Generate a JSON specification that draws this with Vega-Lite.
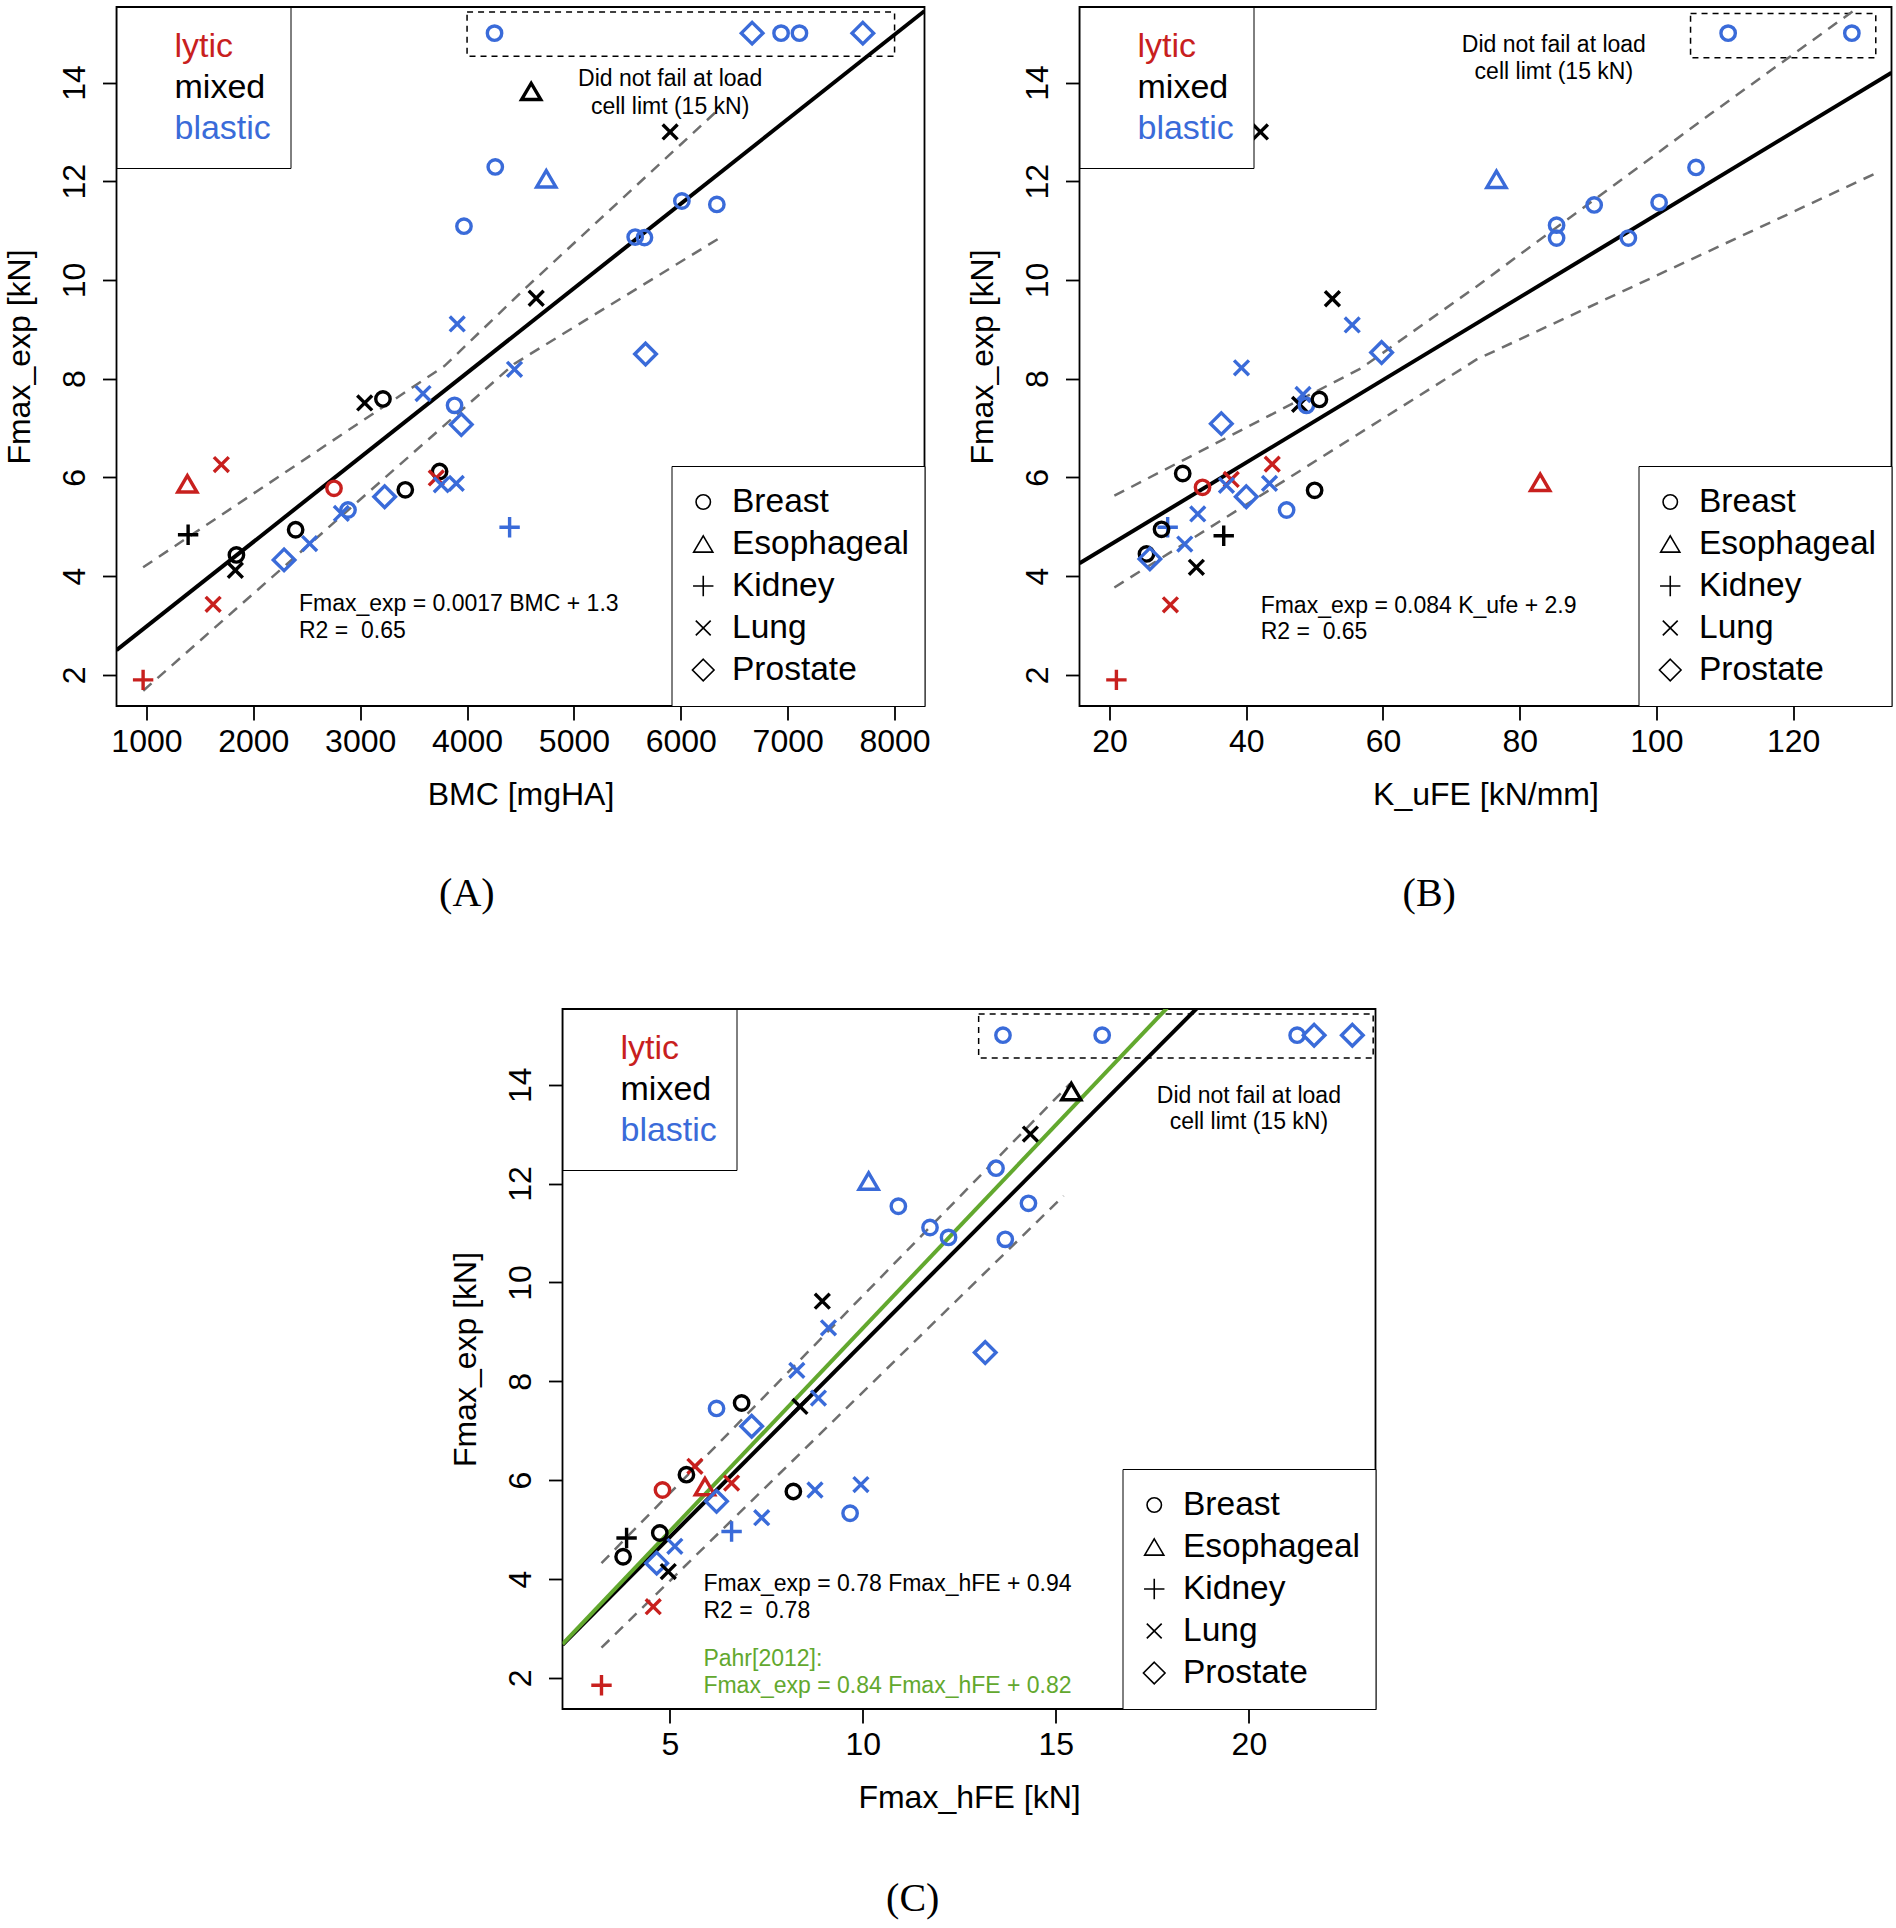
{
  "$schema": "https://vega.github.io/schema/vega-lite/v6.json",
  "padding": {"left": 2.5, "top": 5, "right": 2, "bottom": 2},
  "background": "white",
  "bounds": "flush",
  "spacing": 1002,
  "resolve": {"scale": {"color": "independent", "shape": "independent"}, "legend": {"color": "independent", "shape": "independent"}},
  "datasets": {
    "ptsA": [
      {"x": 4257, "y": 15, "type": "blastic", "cancer": "Breast"},
      {"x": 6938, "y": 15, "type": "blastic", "cancer": "Breast"},
      {"x": 7110, "y": 15, "type": "blastic", "cancer": "Breast"},
      {"x": 6667, "y": 15, "type": "blastic", "cancer": "Prostate"},
      {"x": 7703, "y": 15, "type": "blastic", "cancer": "Prostate"},
      {"x": 4264, "y": 12.29, "type": "blastic", "cancer": "Breast"},
      {"x": 3971, "y": 11.09, "type": "blastic", "cancer": "Breast"},
      {"x": 3908, "y": 9.11, "type": "blastic", "cancer": "Lung"},
      {"x": 4600, "y": 13.82, "type": "mixed", "cancer": "Esophageal"},
      {"x": 5900, "y": 13.0, "type": "mixed", "cancer": "Lung"},
      {"x": 4741, "y": 12.05, "type": "blastic", "cancer": "Esophageal"},
      {"x": 6010, "y": 11.6, "type": "blastic", "cancer": "Breast"},
      {"x": 6337, "y": 11.53, "type": "blastic", "cancer": "Breast"},
      {"x": 5573, "y": 10.87, "type": "blastic", "cancer": "Breast"},
      {"x": 5660, "y": 10.86, "type": "blastic", "cancer": "Breast"},
      {"x": 4647, "y": 9.63, "type": "mixed", "cancer": "Lung"},
      {"x": 5670, "y": 8.5, "type": "blastic", "cancer": "Prostate"},
      {"x": 3042, "y": 7.51, "type": "mixed", "cancer": "Lung"},
      {"x": 3213, "y": 7.59, "type": "mixed", "cancer": "Breast"},
      {"x": 3588, "y": 7.7, "type": "blastic", "cancer": "Lung"},
      {"x": 3883, "y": 7.46, "type": "blastic", "cancer": "Breast"},
      {"x": 3946, "y": 7.07, "type": "blastic", "cancer": "Prostate"},
      {"x": 1701, "y": 6.26, "type": "lytic", "cancer": "Lung"},
      {"x": 1383, "y": 5.87, "type": "lytic", "cancer": "Esophageal"},
      {"x": 1390, "y": 4.84, "type": "mixed", "cancer": "Kidney"},
      {"x": 2755, "y": 5.78, "type": "lytic", "cancer": "Breast"},
      {"x": 3743, "y": 6.12, "type": "mixed", "cancer": "Breast"},
      {"x": 3712, "y": 5.99, "type": "lytic", "cancer": "Lung"},
      {"x": 3759, "y": 5.85, "type": "blastic", "cancer": "Lung"},
      {"x": 3899, "y": 5.88, "type": "blastic", "cancer": "Lung"},
      {"x": 3422, "y": 5.75, "type": "mixed", "cancer": "Breast"},
      {"x": 3229, "y": 5.61, "type": "blastic", "cancer": "Prostate"},
      {"x": 2824, "y": 5.27, "type": "blastic", "cancer": "Lung"},
      {"x": 2886, "y": 5.34, "type": "blastic", "cancer": "Breast"},
      {"x": 2396, "y": 4.94, "type": "mixed", "cancer": "Breast"},
      {"x": 2527, "y": 4.66, "type": "blastic", "cancer": "Lung"},
      {"x": 2288, "y": 4.33, "type": "blastic", "cancer": "Prostate"},
      {"x": 1842, "y": 4.43, "type": "mixed", "cancer": "Breast"},
      {"x": 1832, "y": 4.12, "type": "mixed", "cancer": "Lung"},
      {"x": 1624, "y": 3.43, "type": "lytic", "cancer": "Lung"},
      {"x": 969, "y": 1.9, "type": "lytic", "cancer": "Kidney"},
      {"x": 4398, "y": 4.99, "type": "blastic", "cancer": "Kidney"},
      {"x": 4444, "y": 8.19, "type": "blastic", "cancer": "Lung"}
    ],
    "ptsB": [
      {"x": 110.5, "y": 15, "type": "blastic", "cancer": "Breast"},
      {"x": 128.6, "y": 15, "type": "blastic", "cancer": "Breast"},
      {"x": 42.07, "y": 13.0, "type": "mixed", "cancer": "Lung"},
      {"x": 52.6, "y": 9.62, "type": "mixed", "cancer": "Lung"},
      {"x": 55.5, "y": 9.09, "type": "blastic", "cancer": "Lung"},
      {"x": 59.8, "y": 8.53, "type": "blastic", "cancer": "Prostate"},
      {"x": 39.3, "y": 8.22, "type": "blastic", "cancer": "Lung"},
      {"x": 76.6, "y": 12.04, "type": "blastic", "cancer": "Esophageal"},
      {"x": 105.8, "y": 12.28, "type": "blastic", "cancer": "Breast"},
      {"x": 90.9, "y": 11.52, "type": "blastic", "cancer": "Breast"},
      {"x": 100.4, "y": 11.57, "type": "blastic", "cancer": "Breast"},
      {"x": 85.4, "y": 11.11, "type": "blastic", "cancer": "Breast"},
      {"x": 85.4, "y": 10.85, "type": "blastic", "cancer": "Breast"},
      {"x": 95.9, "y": 10.85, "type": "blastic", "cancer": "Breast"},
      {"x": 48.3, "y": 7.68, "type": "blastic", "cancer": "Lung"},
      {"x": 47.8, "y": 7.48, "type": "mixed", "cancer": "Lung"},
      {"x": 48.8, "y": 7.46, "type": "blastic", "cancer": "Breast"},
      {"x": 50.7, "y": 7.58, "type": "mixed", "cancer": "Breast"},
      {"x": 36.35, "y": 7.09, "type": "blastic", "cancer": "Prostate"},
      {"x": 30.7, "y": 6.08, "type": "mixed", "cancer": "Breast"},
      {"x": 43.8, "y": 6.27, "type": "lytic", "cancer": "Lung"},
      {"x": 33.6, "y": 5.8, "type": "lytic", "cancer": "Breast"},
      {"x": 37.8, "y": 5.96, "type": "lytic", "cancer": "Lung"},
      {"x": 37.1, "y": 5.84, "type": "blastic", "cancer": "Lung"},
      {"x": 43.4, "y": 5.88, "type": "blastic", "cancer": "Lung"},
      {"x": 50.0, "y": 5.74, "type": "mixed", "cancer": "Breast"},
      {"x": 40.0, "y": 5.61, "type": "blastic", "cancer": "Prostate"},
      {"x": 45.9, "y": 5.34, "type": "blastic", "cancer": "Breast"},
      {"x": 32.9, "y": 5.26, "type": "blastic", "cancer": "Lung"},
      {"x": 28.5, "y": 4.99, "type": "blastic", "cancer": "Kidney"},
      {"x": 31.0, "y": 4.65, "type": "blastic", "cancer": "Lung"},
      {"x": 27.6, "y": 4.95, "type": "mixed", "cancer": "Breast"},
      {"x": 36.7, "y": 4.82, "type": "mixed", "cancer": "Kidney"},
      {"x": 25.4, "y": 4.45, "type": "mixed", "cancer": "Breast"},
      {"x": 25.9, "y": 4.35, "type": "blastic", "cancer": "Prostate"},
      {"x": 32.7, "y": 4.18, "type": "mixed", "cancer": "Lung"},
      {"x": 28.9, "y": 3.42, "type": "lytic", "cancer": "Lung"},
      {"x": 21.0, "y": 1.9, "type": "lytic", "cancer": "Kidney"},
      {"x": 83.0, "y": 5.9, "type": "lytic", "cancer": "Esophageal"}
    ],
    "ptsC": [
      {"x": 13.63, "y": 15, "type": "blastic", "cancer": "Breast"},
      {"x": 16.2, "y": 15, "type": "blastic", "cancer": "Breast"},
      {"x": 21.25, "y": 15, "type": "blastic", "cancer": "Breast"},
      {"x": 21.69, "y": 15, "type": "blastic", "cancer": "Prostate"},
      {"x": 22.68, "y": 15, "type": "blastic", "cancer": "Prostate"},
      {"x": 15.4, "y": 13.86, "type": "mixed", "cancer": "Esophageal"},
      {"x": 14.34, "y": 13.0, "type": "mixed", "cancer": "Lung"},
      {"x": 13.45, "y": 12.31, "type": "blastic", "cancer": "Breast"},
      {"x": 10.15, "y": 12.05, "type": "blastic", "cancer": "Esophageal"},
      {"x": 10.92, "y": 11.54, "type": "blastic", "cancer": "Breast"},
      {"x": 14.29, "y": 11.6, "type": "blastic", "cancer": "Breast"},
      {"x": 11.74, "y": 11.11, "type": "blastic", "cancer": "Breast"},
      {"x": 12.22, "y": 10.91, "type": "blastic", "cancer": "Breast"},
      {"x": 13.69, "y": 10.87, "type": "blastic", "cancer": "Breast"},
      {"x": 8.95, "y": 9.62, "type": "mixed", "cancer": "Lung"},
      {"x": 9.11, "y": 9.08, "type": "blastic", "cancer": "Lung"},
      {"x": 13.17, "y": 8.58, "type": "blastic", "cancer": "Prostate"},
      {"x": 8.29, "y": 8.22, "type": "blastic", "cancer": "Lung"},
      {"x": 8.85, "y": 7.66, "type": "blastic", "cancer": "Lung"},
      {"x": 8.37, "y": 7.49, "type": "mixed", "cancer": "Lung"},
      {"x": 6.21, "y": 7.45, "type": "blastic", "cancer": "Breast"},
      {"x": 6.86, "y": 7.56, "type": "mixed", "cancer": "Breast"},
      {"x": 7.12, "y": 7.09, "type": "blastic", "cancer": "Prostate"},
      {"x": 5.65, "y": 6.28, "type": "lytic", "cancer": "Lung"},
      {"x": 5.43, "y": 6.11, "type": "mixed", "cancer": "Breast"},
      {"x": 4.81, "y": 5.8, "type": "lytic", "cancer": "Breast"},
      {"x": 5.91, "y": 5.87, "type": "lytic", "cancer": "Esophageal"},
      {"x": 6.6, "y": 5.94, "type": "lytic", "cancer": "Lung"},
      {"x": 6.21, "y": 5.57, "type": "blastic", "cancer": "Prostate"},
      {"x": 8.2, "y": 5.77, "type": "mixed", "cancer": "Breast"},
      {"x": 8.76, "y": 5.8, "type": "blastic", "cancer": "Lung"},
      {"x": 9.95, "y": 5.91, "type": "blastic", "cancer": "Lung"},
      {"x": 9.67, "y": 5.33, "type": "blastic", "cancer": "Breast"},
      {"x": 7.38, "y": 5.24, "type": "blastic", "cancer": "Lung"},
      {"x": 5.13, "y": 4.66, "type": "blastic", "cancer": "Lung"},
      {"x": 6.6, "y": 4.96, "type": "blastic", "cancer": "Kidney"},
      {"x": 3.88, "y": 4.83, "type": "mixed", "cancer": "Kidney"},
      {"x": 4.74, "y": 4.93, "type": "mixed", "cancer": "Breast"},
      {"x": 3.79, "y": 4.45, "type": "mixed", "cancer": "Breast"},
      {"x": 4.66, "y": 4.32, "type": "blastic", "cancer": "Prostate"},
      {"x": 4.96, "y": 4.15, "type": "mixed", "cancer": "Lung"},
      {"x": 4.57, "y": 3.44, "type": "lytic", "cancer": "Lung"},
      {"x": 3.23, "y": 1.85, "type": "lytic", "cancer": "Kidney"}
    ],
    "lineA": [
      {"series": "fit", "x": 720, "y": 2.5},
      {"series": "fit", "x": 8280, "y": 15.45},
      {"series": "upper", "x": 969, "y": 4.18},
      {"series": "upper", "x": 3790, "y": 8.26},
      {"series": "upper", "x": 4554, "y": 9.85},
      {"series": "upper", "x": 6331, "y": 13.41},
      {"series": "lower", "x": 970, "y": 1.68},
      {"series": "lower", "x": 4440, "y": 8.3},
      {"series": "lower", "x": 6347, "y": 10.83}
    ],
    "lineB": [
      {"series": "fit", "x": 15.6, "y": 4.26},
      {"series": "fit", "x": 134.4, "y": 14.2},
      {"series": "upper", "x": 20.7, "y": 5.63},
      {"series": "upper", "x": 56.9, "y": 8.22},
      {"series": "upper", "x": 73.7, "y": 9.87},
      {"series": "upper", "x": 107.8, "y": 13.35},
      {"series": "upper", "x": 129.3, "y": 15.5},
      {"series": "lower", "x": 20.7, "y": 3.77},
      {"series": "lower", "x": 46.9, "y": 6.05},
      {"series": "lower", "x": 73.7, "y": 8.39},
      {"series": "lower", "x": 132.7, "y": 12.2}
    ],
    "lineC": [
      {"series": "fit", "x": 2.22, "y": 2.67},
      {"series": "fit", "x": 18.66, "y": 15.55},
      {"series": "pahr", "x": 2.22, "y": 2.68},
      {"series": "pahr", "x": 17.88, "y": 15.55},
      {"series": "upper", "x": 3.23, "y": 4.32},
      {"series": "upper", "x": 15.37, "y": 14.02},
      {"series": "lower", "x": 3.23, "y": 2.61},
      {"series": "lower", "x": 15.2, "y": 11.75}
    ],
    "boxA": [{"x": 4000, "x2": 8000, "y": 14.53, "y2": 15.43}],
    "boxB": [{"x": 105.0, "x2": 132.1, "y": 14.5, "y2": 15.4}],
    "boxC": [{"x": 13.0, "x2": 23.22, "y": 14.54, "y2": 15.43}],
    "textA": [
      {"kind": "note", "x": 5900, "y": 14.07, "label": "Did not fail at load"},
      {"kind": "note", "x": 5900, "y": 13.51, "label": "cell limt (15 kN)"},
      {"kind": "eq", "x": 2427, "y": 3.43, "label": "Fmax_exp = 0.0017 BMC + 1.3"},
      {"kind": "eq", "x": 2427, "y": 2.88, "label": "R2 = \u00a00.65"}
    ],
    "textB": [
      {"kind": "note", "x": 85.0, "y": 14.76, "label": "Did not fail at load"},
      {"kind": "note", "x": 85.0, "y": 14.21, "label": "cell limt (15 kN)"},
      {"kind": "eq", "x": 42.1, "y": 3.4, "label": "Fmax_exp = 0.084 K_ufe + 2.9"},
      {"kind": "eq", "x": 42.1, "y": 2.86, "label": "R2 = \u00a00.65"}
    ],
    "textC": [
      {"kind": "note", "x": 20.0, "y": 13.78, "label": "Did not fail at load"},
      {"kind": "note", "x": 20.0, "y": 13.25, "label": "cell limt (15 kN)"},
      {"kind": "eq", "x": 5.87, "y": 3.89, "label": "Fmax_exp = 0.78 Fmax_hFE + 0.94"},
      {"kind": "eq", "x": 5.87, "y": 3.35, "label": "R2 = \u00a00.78"},
      {"kind": "pahr", "x": 5.87, "y": 2.38, "label": "Pahr[2012]:"},
      {"kind": "pahr", "x": 5.87, "y": 1.84, "label": "Fmax_exp = 0.84 Fmax_hFE + 0.82"}
    ]
  },
  "vconcat": [
    {
      "hconcat": [
        {
          "width": 808, "height": 699,
          "title": {"text": "(A)", "orient": "bottom", "frame": "bounds", "anchor": "middle", "font": "Liberation Serif", "fontSize": 40, "fontWeight": "normal", "color": "black", "offset": 64},
          "encoding": {
            "x": {"field": "x", "type": "quantitative", "scale": {"domain": [720, 8280], "nice": false, "zero": false}, "axis": {"title": "BMC [mgHA]", "values": [1000, 2000, 3000, 4000, 5000, 6000, 7000, 8000], "format": "d"}},
            "y": {"field": "y", "type": "quantitative", "scale": {"domain": [1.37, 15.53], "nice": false, "zero": false}, "axis": {"title": "Fmax_exp [kN]", "values": [2, 4, 6, 8, 10, 12, 14]}}
          },
          "layer": [
            {"data": {"name": "boxA"}, "mark": {"type": "rect", "fill": "transparent", "stroke": "black", "strokeWidth": 1.5, "strokeDash": [6, 5]}, "encoding": {"x2": {"field": "x2"}, "y2": {"field": "y2"}}},
            {"data": {"name": "lineA"}, "transform": [{"filter": "datum.series !== 'fit'"}], "mark": {"type": "line", "clip": true, "color": "#6e6e6e", "strokeWidth": 2.5, "strokeDash": [11, 8]}, "encoding": {"detail": {"field": "series"}}},
            {"data": {"name": "lineA"}, "transform": [{"filter": "datum.series === 'fit'"}], "mark": {"type": "line", "clip": true, "color": "black", "strokeWidth": 4}, "encoding": {}},
            {
              "data": {"name": "ptsA"},
              "mark": {"type": "point", "filled": false, "size": 576, "strokeWidth": 3.4, "opacity": 1},
              "encoding": {
                "color": {"field": "type", "type": "nominal", "scale": {"domain": ["lytic", "mixed", "blastic"], "range": ["#c8201e", "#000000", "#3a6bd9"]},
                  "legend": {"title": null, "orient": "top-left", "offset": 0, "padding": 19, "strokeColor": "black", "fillColor": "white", "labelFont": "Liberation Sans", "labelFontSize": 34, "labelLimit": 300, "symbolOpacity": 0, "symbolSize": 100, "symbolType": "circle", "labelOffset": 5, "rowPadding": 0, "clipHeight": 41, "labelColor": {"expr": "datum.label === 'lytic' ? '#c8201e' : (datum.label === 'blastic' ? '#3a6bd9' : '#000000')"}}},
                "shape": {"field": "cancer", "type": "nominal", "scale": {"domain": ["Breast", "Esophageal", "Kidney", "Lung", "Prostate"], "range": ["M0.6,0A0.6,0.6,0,1,1,-0.6,0A0.6,0.6,0,1,1,0.6,0Z", "M0,-0.68L0.8,0.68L-0.8,0.68Z", "M-0.85,0L0.85,0M0,-0.85L0,0.85", "M-0.62,-0.62L0.62,0.62M-0.62,0.62L0.62,-0.62", "M0,-0.9L0.9,0L0,0.9L-0.9,0Z"]},
                  "legend": {"title": null, "orient": "bottom-right", "offset": 0, "padding": 15, "strokeColor": "black", "fillColor": "white", "labelFont": "Liberation Sans", "labelFontSize": 33.5, "labelLimit": 300, "labelColor": "black", "symbolStrokeColor": "black", "symbolStrokeWidth": 1.6, "symbolFillColor": "transparent", "symbolSize": 576, "labelOffset": 12, "rowPadding": 0, "clipHeight": 42}}
              }
            },
            {"data": {"name": "textA"}, "transform": [{"filter": "datum.kind === 'note'"}], "mark": {"type": "text", "align": "center", "baseline": "middle", "font": "Liberation Sans", "fontSize": 23, "color": "black"}, "encoding": {"text": {"field": "label"}}},
            {"data": {"name": "textA"}, "transform": [{"filter": "datum.kind === 'eq'"}], "mark": {"type": "text", "align": "left", "baseline": "middle", "font": "Liberation Sans", "fontSize": 23, "color": "black"}, "encoding": {"text": {"field": "label"}}}
          ]
        },
        {
          "width": 812, "height": 699,
          "title": {"text": "(B)", "orient": "bottom", "frame": "bounds", "anchor": "middle", "font": "Liberation Serif", "fontSize": 40, "fontWeight": "normal", "color": "black", "offset": 64},
          "encoding": {
            "x": {"field": "x", "type": "quantitative", "scale": {"domain": [15.6, 134.4], "nice": false, "zero": false}, "axis": {"title": "K_uFE [kN/mm]", "values": [20, 40, 60, 80, 100, 120]}},
            "y": {"field": "y", "type": "quantitative", "scale": {"domain": [1.37, 15.53], "nice": false, "zero": false}, "axis": {"title": "Fmax_exp [kN]", "values": [2, 4, 6, 8, 10, 12, 14]}}
          },
          "layer": [
            {"data": {"name": "boxB"}, "mark": {"type": "rect", "fill": "transparent", "stroke": "black", "strokeWidth": 1.5, "strokeDash": [6, 5]}, "encoding": {"x2": {"field": "x2"}, "y2": {"field": "y2"}}},
            {"data": {"name": "lineB"}, "transform": [{"filter": "datum.series !== 'fit'"}], "mark": {"type": "line", "clip": true, "color": "#6e6e6e", "strokeWidth": 2.5, "strokeDash": [11, 8]}, "encoding": {"detail": {"field": "series"}}},
            {"data": {"name": "lineB"}, "transform": [{"filter": "datum.series === 'fit'"}], "mark": {"type": "line", "clip": true, "color": "black", "strokeWidth": 4}, "encoding": {}},
            {
              "data": {"name": "ptsB"},
              "mark": {"type": "point", "filled": false, "size": 576, "strokeWidth": 3.4, "opacity": 1},
              "encoding": {
                "color": {"field": "type", "type": "nominal", "scale": {"domain": ["lytic", "mixed", "blastic"], "range": ["#c8201e", "#000000", "#3a6bd9"]},
                  "legend": {"title": null, "orient": "top-left", "offset": 0, "padding": 19, "strokeColor": "black", "fillColor": "white", "labelFont": "Liberation Sans", "labelFontSize": 34, "labelLimit": 300, "symbolOpacity": 0, "symbolSize": 100, "symbolType": "circle", "labelOffset": 5, "rowPadding": 0, "clipHeight": 41, "labelColor": {"expr": "datum.label === 'lytic' ? '#c8201e' : (datum.label === 'blastic' ? '#3a6bd9' : '#000000')"}}},
                "shape": {"field": "cancer", "type": "nominal", "scale": {"domain": ["Breast", "Esophageal", "Kidney", "Lung", "Prostate"], "range": ["M0.6,0A0.6,0.6,0,1,1,-0.6,0A0.6,0.6,0,1,1,0.6,0Z", "M0,-0.68L0.8,0.68L-0.8,0.68Z", "M-0.85,0L0.85,0M0,-0.85L0,0.85", "M-0.62,-0.62L0.62,0.62M-0.62,0.62L0.62,-0.62", "M0,-0.9L0.9,0L0,0.9L-0.9,0Z"]},
                  "legend": {"title": null, "orient": "bottom-right", "offset": 0, "padding": 15, "strokeColor": "black", "fillColor": "white", "labelFont": "Liberation Sans", "labelFontSize": 33.5, "labelLimit": 300, "labelColor": "black", "symbolStrokeColor": "black", "symbolStrokeWidth": 1.6, "symbolFillColor": "transparent", "symbolSize": 576, "labelOffset": 12, "rowPadding": 0, "clipHeight": 42}}
              }
            },
            {"data": {"name": "textB"}, "transform": [{"filter": "datum.kind === 'note'"}], "mark": {"type": "text", "align": "center", "baseline": "middle", "font": "Liberation Sans", "fontSize": 23, "color": "black"}, "encoding": {"text": {"field": "label"}}},
            {"data": {"name": "textB"}, "transform": [{"filter": "datum.kind === 'eq'"}], "mark": {"type": "text", "align": "left", "baseline": "middle", "font": "Liberation Sans", "fontSize": 23, "color": "black"}, "encoding": {"text": {"field": "label"}}}
          ]
        }
      ],
      "spacing": 155,
      "bounds": "flush",
      "resolve": {"scale": {"color": "independent", "shape": "independent"}, "legend": {"color": "independent", "shape": "independent"}}
    },
    {
      "hconcat": [
        {"width": 446, "height": 600, "view": {"stroke": null}, "data": {"values": [{"a": 1}]}, "mark": {"type": "point", "opacity": 0}},
        {
          "width": 813, "height": 700,
          "title": {"text": "(C)", "orient": "bottom", "frame": "bounds", "anchor": "middle", "font": "Liberation Serif", "fontSize": 40, "fontWeight": "normal", "color": "black", "offset": 66},
          "encoding": {
            "x": {"field": "x", "type": "quantitative", "scale": {"domain": [2.22, 23.28], "nice": false, "zero": false}, "axis": {"title": "Fmax_hFE [kN]", "values": [5, 10, 15, 20]}},
            "y": {"field": "y", "type": "quantitative", "scale": {"domain": [1.37, 15.53], "nice": false, "zero": false}, "axis": {"title": "Fmax_exp [kN]", "values": [2, 4, 6, 8, 10, 12, 14]}}
          },
          "layer": [
            {"data": {"name": "boxC"}, "mark": {"type": "rect", "fill": "transparent", "stroke": "black", "strokeWidth": 1.5, "strokeDash": [6, 5]}, "encoding": {"x2": {"field": "x2"}, "y2": {"field": "y2"}}},
            {"data": {"name": "lineC"}, "transform": [{"filter": "datum.series === 'upper' || datum.series === 'lower'"}], "mark": {"type": "line", "clip": true, "color": "#6e6e6e", "strokeWidth": 2.5, "strokeDash": [11, 8]}, "encoding": {"detail": {"field": "series"}}},
            {"data": {"name": "lineC"}, "transform": [{"filter": "datum.series === 'fit'"}], "mark": {"type": "line", "clip": true, "color": "black", "strokeWidth": 4}, "encoding": {}},
            {"data": {"name": "lineC"}, "transform": [{"filter": "datum.series === 'pahr'"}], "mark": {"type": "line", "clip": true, "color": "#62a82e", "strokeWidth": 4}, "encoding": {}},
            {
              "data": {"name": "ptsC"},
              "mark": {"type": "point", "filled": false, "size": 576, "strokeWidth": 3.4, "opacity": 1},
              "encoding": {
                "color": {"field": "type", "type": "nominal", "scale": {"domain": ["lytic", "mixed", "blastic"], "range": ["#c8201e", "#000000", "#3a6bd9"]},
                  "legend": {"title": null, "orient": "top-left", "offset": 0, "padding": 19, "strokeColor": "black", "fillColor": "white", "labelFont": "Liberation Sans", "labelFontSize": 34, "labelLimit": 300, "symbolOpacity": 0, "symbolSize": 100, "symbolType": "circle", "labelOffset": 5, "rowPadding": 0, "clipHeight": 41, "labelColor": {"expr": "datum.label === 'lytic' ? '#c8201e' : (datum.label === 'blastic' ? '#3a6bd9' : '#000000')"}}},
                "shape": {"field": "cancer", "type": "nominal", "scale": {"domain": ["Breast", "Esophageal", "Kidney", "Lung", "Prostate"], "range": ["M0.6,0A0.6,0.6,0,1,1,-0.6,0A0.6,0.6,0,1,1,0.6,0Z", "M0,-0.68L0.8,0.68L-0.8,0.68Z", "M-0.85,0L0.85,0M0,-0.85L0,0.85", "M-0.62,-0.62L0.62,0.62M-0.62,0.62L0.62,-0.62", "M0,-0.9L0.9,0L0,0.9L-0.9,0Z"]},
                  "legend": {"title": null, "orient": "bottom-right", "offset": 0, "padding": 15, "strokeColor": "black", "fillColor": "white", "labelFont": "Liberation Sans", "labelFontSize": 33.5, "labelLimit": 300, "labelColor": "black", "symbolStrokeColor": "black", "symbolStrokeWidth": 1.6, "symbolFillColor": "transparent", "symbolSize": 576, "labelOffset": 12, "rowPadding": 0, "clipHeight": 42}}
              }
            },
            {"data": {"name": "textC"}, "transform": [{"filter": "datum.kind === 'note'"}], "mark": {"type": "text", "align": "center", "baseline": "middle", "font": "Liberation Sans", "fontSize": 23, "color": "black"}, "encoding": {"text": {"field": "label"}}},
            {"data": {"name": "textC"}, "transform": [{"filter": "datum.kind === 'eq'"}], "mark": {"type": "text", "align": "left", "baseline": "middle", "font": "Liberation Sans", "fontSize": 23, "color": "black"}, "encoding": {"text": {"field": "label"}}},
            {"data": {"name": "textC"}, "transform": [{"filter": "datum.kind === 'pahr'"}], "mark": {"type": "text", "align": "left", "baseline": "middle", "font": "Liberation Sans", "fontSize": 23, "color": "#62a82e"}, "encoding": {"text": {"field": "label"}}}
          ]
        }
      ],
      "spacing": 0,
      "bounds": "flush",
      "resolve": {"scale": {"color": "independent", "shape": "independent"}, "legend": {"color": "independent", "shape": "independent"}}
    }
  ],
  "config": {
    "font": "Liberation Sans",
    "view": {"stroke": "black", "strokeWidth": 1.8},
    "axis": {"grid": false, "domain": false, "ticks": true, "tickColor": "black", "tickSize": 14, "tickWidth": 1.8, "labelFont": "Liberation Sans", "labelFontSize": 32, "labelColor": "black", "labelFlush": false, "labelOverlap": false, "titleFont": "Liberation Sans", "titleFontSize": 32, "titleFontWeight": "normal", "titleColor": "black"},
    "axisX": {"labelPadding": 6, "titlePadding": 22},
    "axisY": {"labelAngle": -90, "labelAlign": "center", "labelBaseline": "bottom", "labelPadding": 11, "titlePadding": 22}
  }
}
